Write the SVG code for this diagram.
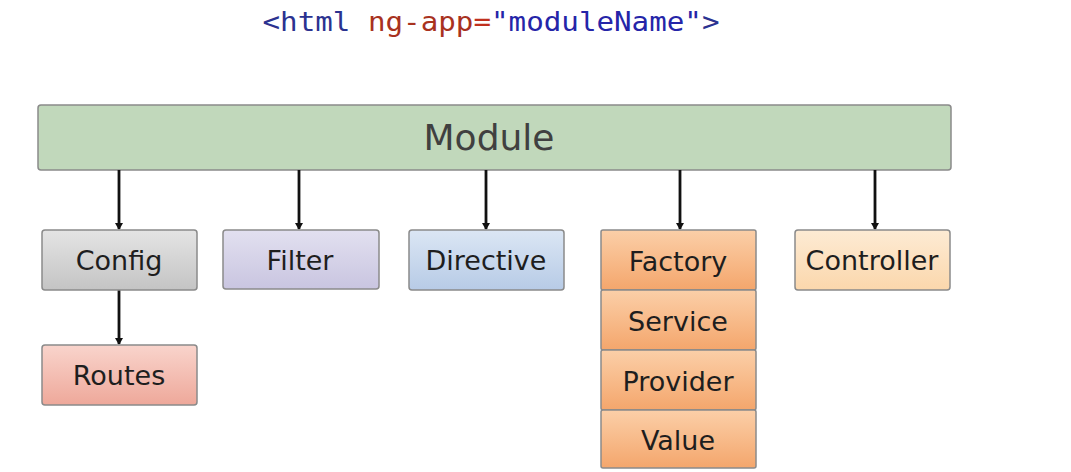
<svg xmlns="http://www.w3.org/2000/svg" width="1071" height="472" viewBox="0 0 1071 472">
<defs>
<linearGradient id="gGray" x1="0" y1="0" x2="0" y2="1"><stop offset="0" stop-color="#e4e4e4"/><stop offset="1" stop-color="#c4c4c4"/></linearGradient>
<linearGradient id="gLav" x1="0" y1="0" x2="0" y2="1"><stop offset="0" stop-color="#e2e0f0"/><stop offset="1" stop-color="#c9c5e0"/></linearGradient>
<linearGradient id="gBlue" x1="0" y1="0" x2="0" y2="1"><stop offset="0" stop-color="#dbe6f4"/><stop offset="1" stop-color="#b7cbe6"/></linearGradient>
<linearGradient id="gOrange" x1="0" y1="0" x2="0" y2="1"><stop offset="0" stop-color="#fbcfa8"/><stop offset="1" stop-color="#f4a66c"/></linearGradient>
<linearGradient id="gPeach" x1="0" y1="0" x2="0" y2="1"><stop offset="0" stop-color="#fdebd4"/><stop offset="1" stop-color="#fbd7ac"/></linearGradient>
<linearGradient id="gPink" x1="0" y1="0" x2="0" y2="1"><stop offset="0" stop-color="#f9d4cc"/><stop offset="1" stop-color="#eea89a"/></linearGradient>
<marker id="arr" markerWidth="8" markerHeight="8" refX="6" refY="4" orient="auto" markerUnits="userSpaceOnUse"><path d="M0,0 L7,4 L0,8 Z" fill="#111"/></marker>
</defs>
<style>
.box{stroke:#8a8a8a;stroke-width:1.5}
.lbl{font-family:"DejaVu Sans",Verdana,sans-serif;font-size:27px;fill:#1e1e1e;text-anchor:middle}
.conn line{stroke:#111;stroke-width:2.8;marker-end:url(#arr)}
</style>
<rect width="1071" height="472" fill="#ffffff"/>
<text x="491" y="31" font-family="DejaVu Sans Mono, Liberation Mono, monospace" font-size="26" textLength="457" lengthAdjust="spacingAndGlyphs" text-anchor="middle"><tspan fill="#2b3290">&lt;html </tspan><tspan fill="#a8321e">ng-app</tspan><tspan fill="#c0301e">=</tspan><tspan fill="#2525a8">"moduleName"</tspan><tspan fill="#2b3290">&gt;</tspan></text>
<g id="module"><rect class="box" x="38" y="105" width="913" height="65" rx="3" fill="#c1d8bb" stroke="#a7bca2"/><text x="489" y="150" font-family="DejaVu Sans, Verdana, sans-serif" font-size="36" fill="#404040" text-anchor="middle">Module</text></g>
<g class="conn" id="connectors">
<line x1="119" y1="170" x2="119" y2="229"/>
<line x1="299" y1="170" x2="299" y2="229"/>
<line x1="486" y1="170" x2="486" y2="229"/>
<line x1="680" y1="170" x2="680" y2="229"/>
<line x1="875" y1="170" x2="875" y2="229"/>
<line x1="119" y1="290" x2="119" y2="344"/>
</g>
<g id="config"><rect class="box" x="42" y="230" width="155" height="60" rx="3" fill="url(#gGray)" stroke="#6a6a6a"/><text class="lbl" x="119" y="270">Config</text></g>
<g id="filter"><rect class="box" x="223" y="230" width="156" height="59" rx="3" fill="url(#gLav)"/><text class="lbl" x="300" y="270">Filter</text></g>
<g id="directive"><rect class="box" x="409" y="230" width="155" height="60" rx="3" fill="url(#gBlue)"/><text class="lbl" x="486" y="270">Directive</text></g>
<g id="factory"><rect class="box" x="601" y="230" width="155" height="60" rx="2" fill="url(#gOrange)" stroke="#c98a5a"/><text class="lbl" x="678" y="271">Factory</text></g>
<g id="service"><rect class="box" x="601" y="290" width="155" height="60" rx="2" fill="url(#gOrange)" stroke="#c98a5a"/><text class="lbl" x="678" y="331">Service</text></g>
<g id="provider"><rect class="box" x="601" y="350" width="155" height="60" rx="2" fill="url(#gOrange)" stroke="#c98a5a"/><text class="lbl" x="678" y="391">Provider</text></g>
<g id="value"><rect class="box" x="601" y="410" width="155" height="58" rx="2" fill="url(#gOrange)" stroke="#c98a5a"/><text class="lbl" x="678" y="450">Value</text></g>
<g id="controller"><rect class="box" x="795" y="230" width="155" height="60" rx="3" fill="url(#gPeach)" stroke="#c9b090"/><text class="lbl" x="872" y="270">Controller</text></g>
<g id="routes"><rect class="box" x="42" y="345" width="155" height="60" rx="3" fill="url(#gPink)" stroke="#b88a80"/><text class="lbl" x="119" y="385">Routes</text></g>
</svg>
